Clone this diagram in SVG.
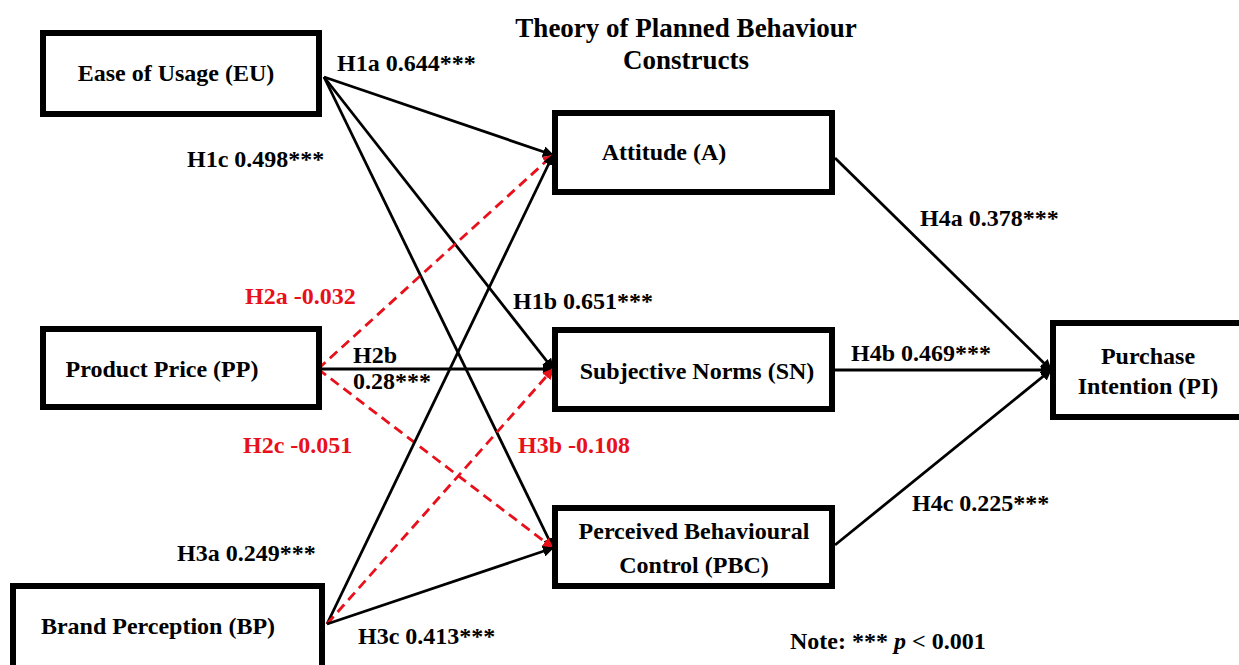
<svg xmlns="http://www.w3.org/2000/svg" width="1239" height="665" viewBox="0 0 1239 665">
<style>
.box{fill:#fff;stroke:#000;stroke-width:6}
.t{font-family:"Liberation Serif","Times New Roman",serif;font-weight:bold;font-size:24px;fill:#000}
.r{fill:#e8101a}
.title{font-size:27px}
.s{stroke:#000;stroke-width:2.8;fill:none}
.d{stroke:#e8101a;stroke-width:2.8;fill:none;stroke-dasharray:10,6}
</style>
<defs>
<marker id="ab" viewBox="0 0 10 10" refX="9" refY="5" markerWidth="4" markerHeight="4" orient="auto" markerUnits="strokeWidth"><path d="M0,0L10,5L0,10z" fill="#000"/></marker>
<marker id="ar" viewBox="0 0 10 10" refX="9" refY="5" markerWidth="4" markerHeight="4" orient="auto" markerUnits="strokeWidth"><path d="M0,0L10,5L0,10z" fill="#e8101a"/></marker>
</defs>
<rect width="1239" height="665" fill="#fff"/>
<g id="connectors">
<line class="s" x1="324" y1="77" x2="553" y2="155" marker-end="url(#ab)"/>
<line class="s" x1="324" y1="77" x2="553" y2="369" marker-end="url(#ab)"/>
<line class="s" x1="324" y1="77" x2="553" y2="548" marker-end="url(#ab)"/>
<line class="d" x1="318" y1="369" x2="553" y2="155" marker-end="url(#ar)"/>
<line class="s" x1="318" y1="369" x2="553" y2="369" marker-end="url(#ab)"/>
<line class="d" x1="318" y1="369" x2="553" y2="548" marker-end="url(#ar)"/>
<line class="s" x1="327" y1="624" x2="553" y2="155" marker-end="url(#ab)"/>
<line class="d" x1="327" y1="624" x2="553" y2="369" marker-end="url(#ar)"/>
<line class="s" x1="327" y1="624" x2="553" y2="548" marker-end="url(#ab)"/>
<line class="s" x1="835" y1="158" x2="1051" y2="370" marker-end="url(#ab)"/>
<line class="s" x1="835" y1="370" x2="1051" y2="370" marker-end="url(#ab)"/>
<line class="s" x1="835" y1="545" x2="1051" y2="370" marker-end="url(#ab)"/>
</g>
<g id="EU"><rect class="box" x="43" y="33" width="276" height="81"/><text class="t" x="176" y="81" text-anchor="middle">Ease of Usage (EU)</text></g>
<g id="PP"><rect class="box" x="43" y="329" width="276" height="78"/><text class="t" x="162" y="377" text-anchor="middle">Product Price (PP)</text></g>
<g id="BP"><rect class="box" x="13" y="586" width="309" height="90"/><text class="t" x="158" y="634" text-anchor="middle">Brand Perception (BP)</text></g>
<g id="A"><rect class="box" x="555" y="113" width="277" height="79"/><text class="t" x="664" y="160" text-anchor="middle">Attitude (A)</text></g>
<g id="SN"><rect class="box" x="555" y="330" width="277" height="79"/><text class="t" x="697" y="379" text-anchor="middle">Subjective Norms (SN)</text></g>
<g id="PBC"><rect class="box" x="555" y="508" width="277" height="78"/><text class="t" x="694" y="539" text-anchor="middle">Perceived Behavioural</text><text class="t" x="694" y="573" text-anchor="middle">Control (PBC)</text></g>
<g id="PI"><rect class="box" x="1053" y="323" width="192" height="94"/><text class="t" x="1148" y="364" text-anchor="middle">Purchase</text><text class="t" x="1148" y="394" text-anchor="middle">Intention (PI)</text></g>
<g id="labels">
<text class="t title" x="686" y="37" text-anchor="middle">Theory of Planned Behaviour</text>
<text class="t title" x="686" y="69" text-anchor="middle">Constructs</text>
<text class="t" x="337" y="71">H1a 0.644***</text>
<text class="t" x="187" y="167">H1c 0.498***</text>
<text class="t" x="920" y="226">H4a 0.378***</text>
<text class="t r" x="245" y="304">H2a -0.032</text>
<text class="t" x="513" y="309">H1b 0.651***</text>
<text class="t" x="353" y="363">H2b</text>
<text class="t" x="353" y="389">0.28***</text>
<text class="t" x="851" y="361">H4b 0.469***</text>
<text class="t r" x="243" y="453">H2c -0.051</text>
<text class="t r" x="518" y="453">H3b -0.108</text>
<text class="t" x="912" y="511">H4c 0.225***</text>
<text class="t" x="177" y="561">H3a 0.249***</text>
<text class="t" x="358" y="644">H3c 0.413***</text>
<text class="t" x="790" y="649">Note: *** <tspan font-style="italic">p</tspan> &lt; 0.001</text>
</g>
</svg>
